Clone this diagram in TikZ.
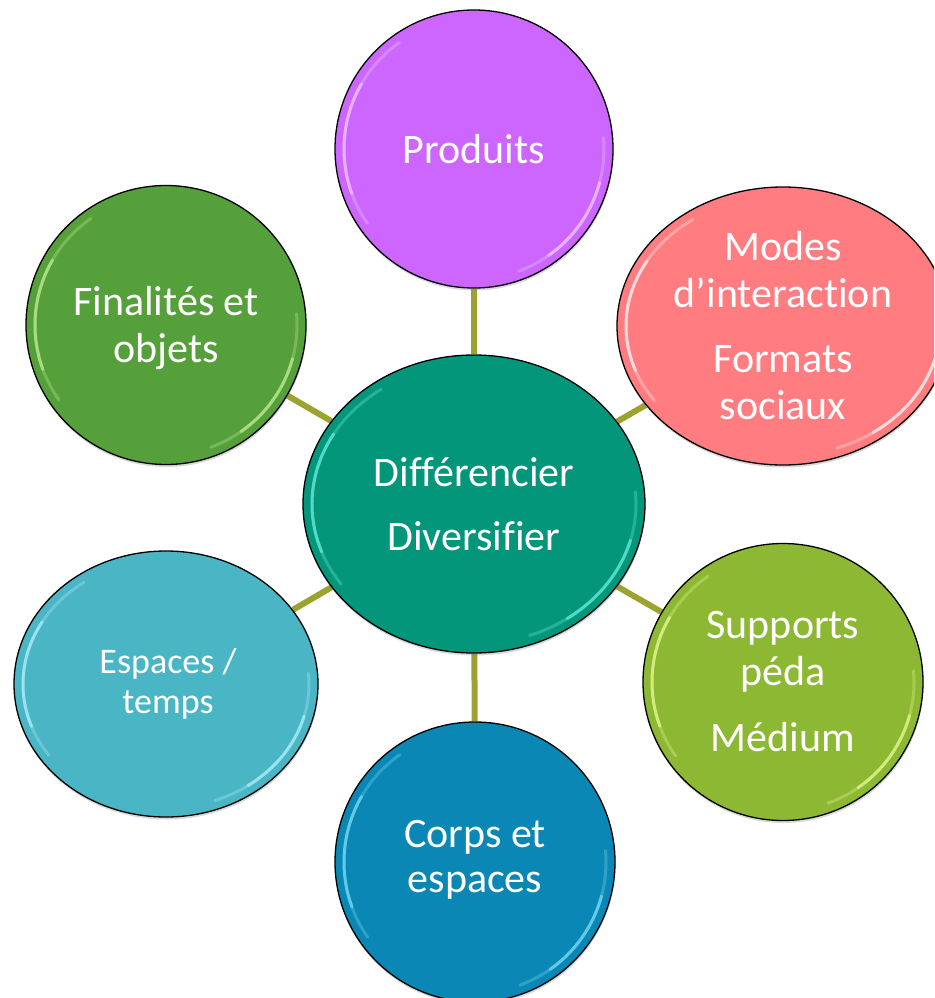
\documentclass[tikz,border=0pt]{standalone}
\usepackage{fontspec}
\setmainfont{Carlito}[Ligatures=CommonOff]
\usetikzlibrary{shapes.geometric,shadows,calc,backgrounds}
\definecolor{cCenter}{HTML}{04967A}
\definecolor{cProd}{HTML}{CC66FF}
\definecolor{cModes}{HTML}{FF7C80}
\definecolor{cFinal}{HTML}{55A03A}
\definecolor{cEsp}{HTML}{4AB5C5}
\definecolor{cSupp}{HTML}{8CB833}
\definecolor{cCorps}{HTML}{0A87B4}
\definecolor{cLink}{HTML}{9BA32E}
\definecolor{gCenter}{HTML}{6FF5E5}
\definecolor{gProd}{HTML}{F4D0FF}
\definecolor{gModes}{HTML}{FFFFFF}
\definecolor{gFinal}{HTML}{C8F59A}
\definecolor{gEsp}{HTML}{B5F5FF}
\definecolor{gSupp}{HTML}{EEFF99}
\definecolor{gCorps}{HTML}{7FE6FF}
\newcommand\glossarc[4]{%
  \draw[#4, line width=3pt, opacity=0.3, line cap=round]
    ($(#1.center)+(125:#2 and #3)$) arc[start angle=125, end angle=215, x radius=#2, y radius=#3];
  \draw[#4, line width=3pt, opacity=0.6, line cap=round]
    ($(#1.center)+(150:#2 and #3)$) arc[start angle=150, end angle=200, x radius=#2, y radius=#3];
  \draw[#4, line width=3pt, opacity=0.3, line cap=round]
    ($(#1.center)+(-70:#2 and #3)$) arc[start angle=-70, end angle=5, x radius=#2, y radius=#3];
  \draw[#4, line width=3pt, opacity=0.6, line cap=round]
    ($(#1.center)+(-55:#2 and #3)$) arc[start angle=-55, end angle=-15, x radius=#2, y radius=#3];
}
\begin{document}
\begin{tikzpicture}[x=1pt,y=1pt,
  bubble/.style={ellipse, draw=black, line width=1.3pt, inner sep=0pt,
    drop shadow={shadow xshift=0.5pt, shadow yshift=-2.5pt, opacity=0.3}},
  lbl/.style={text=white, align=center, inner sep=0pt, font=\fontsize{42}{47}\selectfont},
  link/.style={draw=cLink, line width=6pt}]
\useasboundingbox (0,0) rectangle (934,-998);
\clip (0,0) rectangle (934,-998);

\node[bubble, fill=cCenter, minimum width=342pt, minimum height=298pt] (c) at (474,-504) {};
\node[bubble, fill=cProd,   minimum width=278pt, minimum height=278pt] (p) at (474,-149) {};
\node[bubble, fill=cModes,  minimum width=332pt, minimum height=278pt] (m) at (783,-326) {};
\node[bubble, fill=cFinal,  minimum width=280pt, minimum height=279pt] (f) at (166,-325) {};
\node[bubble, fill=cEsp,    minimum width=304pt, minimum height=266pt] (e) at (166,-684) {};
\node[bubble, fill=cSupp,   minimum width=280pt, minimum height=277pt] (s) at (783,-682) {};
\node[bubble, fill=cCorps,  minimum width=280pt, minimum height=280pt] (k) at (475,-862) {};

\begin{scope}[on background layer]
  \draw[link] (c) -- (p);
  \draw[link] (c) -- (m);
  \draw[link] (c) -- (f);
  \draw[link] (c) -- (e);
  \draw[link] (c) -- (s);
  \draw[link] (c) -- (k);
\end{scope}

\glossarc{c}{162pt}{140pt}{gCenter}
\glossarc{p}{130pt}{130pt}{gProd}
\glossarc{m}{157pt}{130pt}{gModes}
\glossarc{f}{131pt}{130pt}{gFinal}
\glossarc{e}{143pt}{124pt}{gEsp}
\glossarc{s}{131pt}{129pt}{gSupp}
\glossarc{k}{131pt}{131pt}{gCorps}

\node[lbl] (tc) at (c) {Différencier\\[17pt]Diversifier};
\node[lbl] (tp) at (p) {Produits};
\node[lbl] (tm) at (m) {Modes\\d’interaction\\[18pt]Formats\\sociaux};
\node[lbl] (tf) at ([yshift=-3pt]f.center) {Finalités et\\objets};
\node[lbl, font=\fontsize{36}{40}\selectfont] (te) at ([xshift=2pt]e.center) {Espaces /\\temps};
\node[lbl] (ts) at (s) {Supports\\péda\\[19pt]Médium};
\node[lbl, font=\fontsize{42}{45}\selectfont] (tk) at ([yshift=2pt]k.center) {Corps et\\espaces};
\end{tikzpicture}
\end{document}
